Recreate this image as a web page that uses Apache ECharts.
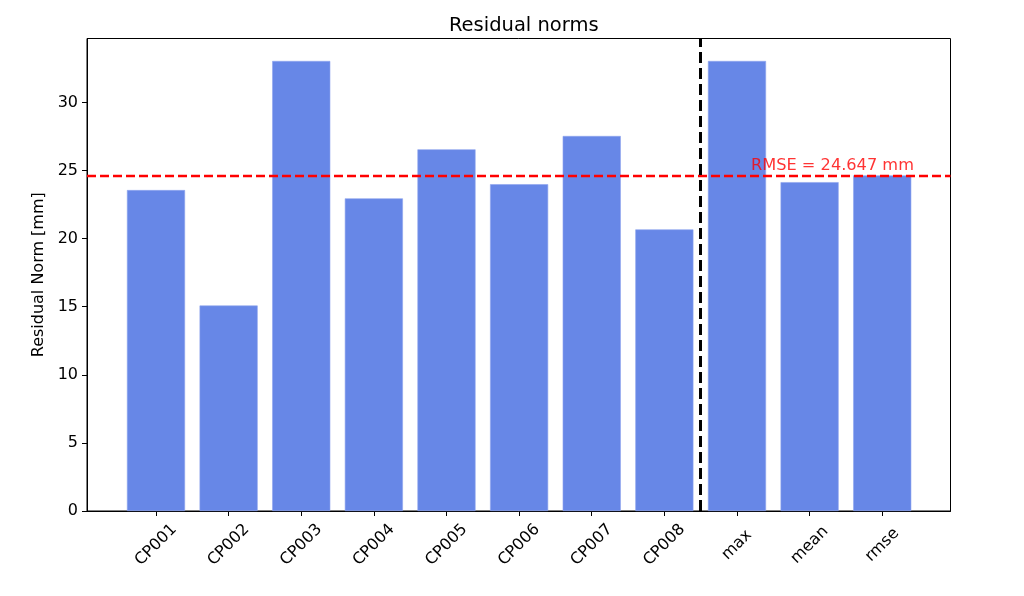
<!DOCTYPE html>
<html>
<head>
<meta charset="utf-8">
<script src="https://cdn.jsdelivr.net/npm/echarts@6/dist/echarts.min.js"></script>
<style>
html,body{margin:0;padding:0;background:#fff;}
#chart{width:1024px;height:596px;}
</style>
</head>
<body>
<div id="chart"></div>
<script>
const categories = ['CP001','CP002','CP003','CP004','CP005','CP006','CP007','CP008','max','mean','rmse'];
const residuals = [23.57, 15.09, 33.05, 22.96, 26.56, 24.0, 27.54, 20.68, 33.05, 24.15, 24.647];
const yTicks = [0, 5, 10, 15, 20, 25, 30];
const rmseValue = 24.647;
const dividerX = 7.5;
const rmseLabel = 'RMSE = 24.647 mm';

const font = 'DejaVu Sans';
const xIdx = categories.map((c, i) => i);
const chart = echarts.init(document.getElementById('chart'), null, {renderer: 'canvas'});
const gridLeft = 87, gridRight = 73.5;
const xMin = -0.95, xMax = 10.94;
const unitPx = (1024 - gridLeft - gridRight) / (xMax - xMin);

chart.setOption({
  animation: false,
  backgroundColor: '#fff',
  title: {
    text: 'Residual norms',
    left: (gridLeft + (1024 - gridRight)) / 2,
    textAlign: 'center',
    top: 11,
    textStyle: {fontFamily: font, fontSize: 19.5, fontWeight: 'normal', color: '#000'}
  },
  grid: {
    left: gridLeft, right: gridRight, top: 38.5, bottom: 85,
    show: true, borderColor: '#000', borderWidth: 1, backgroundColor: 'transparent'
  },
  xAxis: {
    type: 'value',
    min: xMin, max: xMax,
    axisLine: {show: true, onZero: false, lineStyle: {color: '#000', width: 1}},
    axisTick: {show: true, customValues: xIdx, length: 5, lineStyle: {color: '#000', width: 1}},
    splitLine: {show: false},
    axisLabel: {
      customValues: xIdx,
      rotate: 45, align: 'center', verticalAlign: 'middle', margin: 34,
      fontFamily: font, fontSize: 16, color: '#000',
      formatter: v => categories[Math.round(v)]
    }
  },
  yAxis: {
    type: 'value',
    min: 0, max: 34.7,
    name: 'Residual Norm [mm]',
    nameLocation: 'middle',
    nameGap: 40,
    nameTextStyle: {fontFamily: font, fontSize: 16, color: '#000'},
    axisLine: {show: true, onZero: false, lineStyle: {color: '#000', width: 1}},
    axisTick: {show: true, customValues: yTicks, length: 5, lineStyle: {color: '#000', width: 1}},
    splitLine: {show: false},
    axisLabel: {customValues: yTicks, margin: 9, fontFamily: font, fontSize: 16, color: '#000'}
  },
  series: [
    {
      type: 'bar',
      data: residuals.map((v, i) => [i, v]),
      barWidth: 0.8 * unitPx,
      itemStyle: {color: '#6787E7', borderColor: '#8EA5EE', borderWidth: 0.6},
      markLine: {
        silent: true,
        symbol: 'none',
        label: {show: false},
        data: [
          {yAxis: rmseValue, lineStyle: {color: '#FF0000', width: 2.4, type: [9, 4]}},
          {xAxis: dividerX, lineStyle: {color: '#000', width: 3, type: [11, 5]}}
        ]
      },
      z: 2
    },
    {
      type: 'scatter',
      data: [[8.2, rmseValue]],
      symbolSize: 1,
      itemStyle: {color: 'rgba(0,0,0,0)'},
      label: {
        show: true,
        formatter: rmseLabel,
        position: [0, 0],
        align: 'left',
        verticalAlign: 'bottom',
        fontFamily: font, fontSize: 16.2, color: '#FF0000',
        lineHeight: 18
      },
      z: 5
    }
  ]
});
</script>
</body>
</html>
